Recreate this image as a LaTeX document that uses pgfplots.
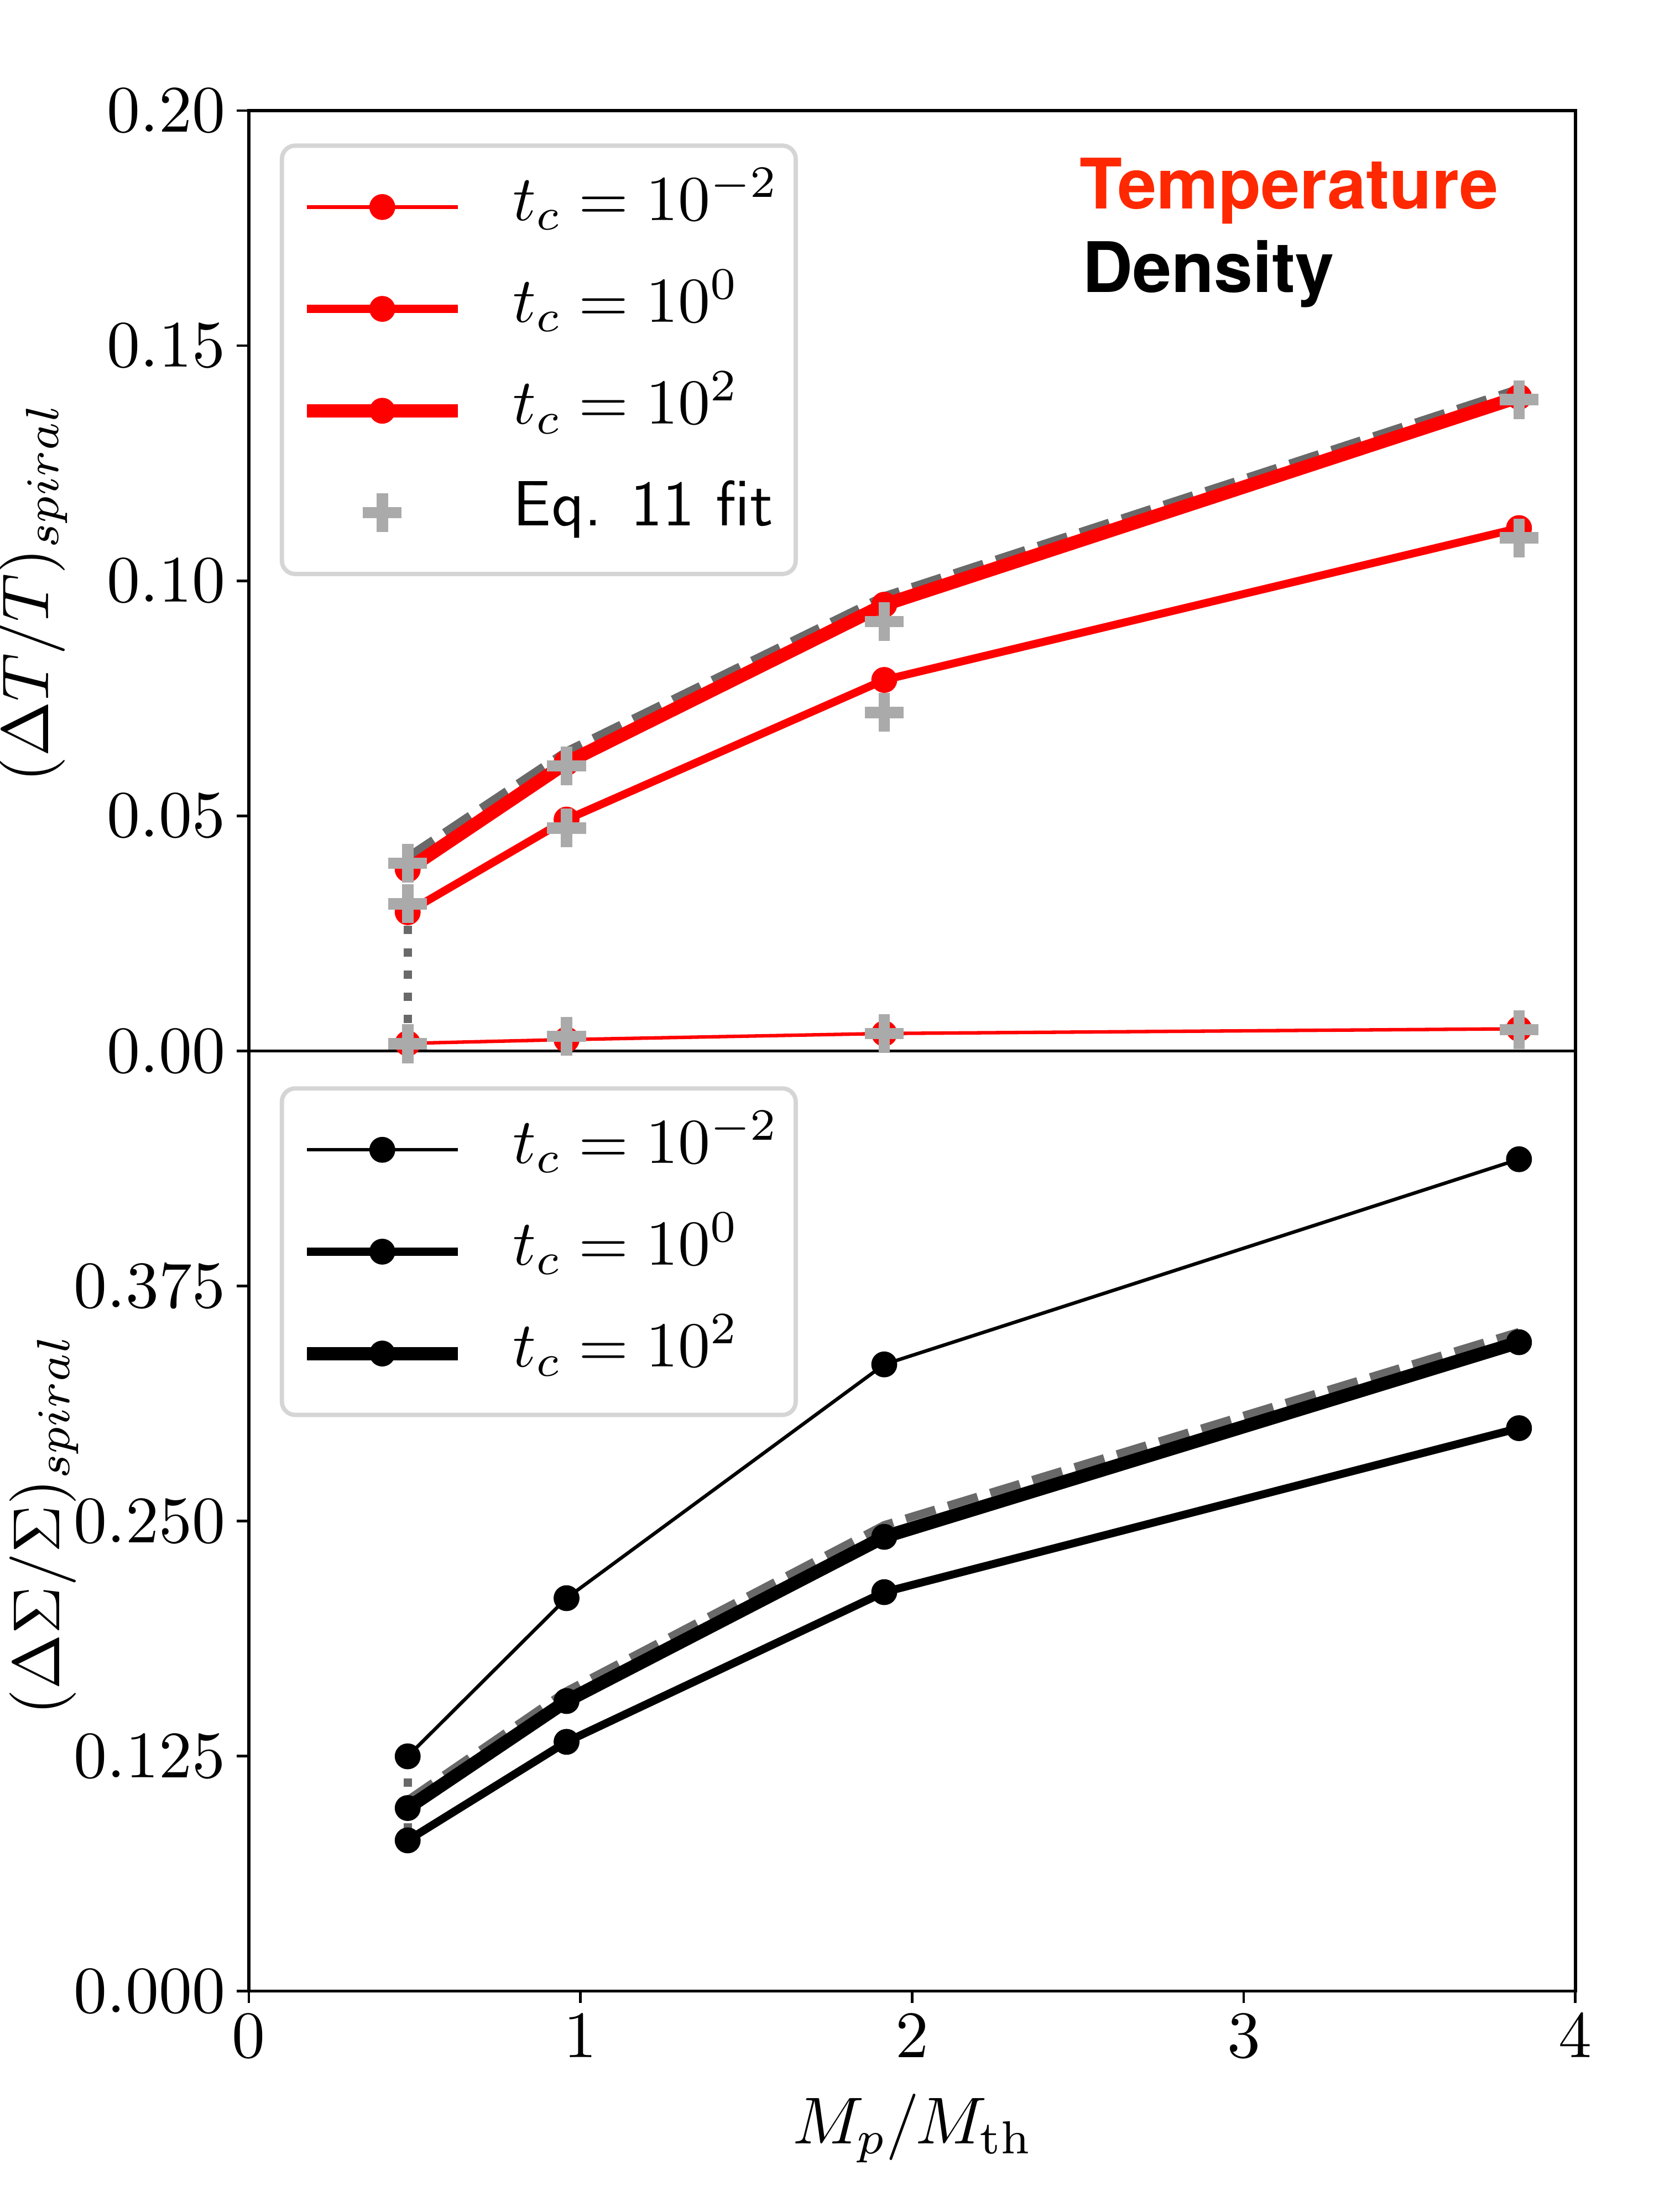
\documentclass[border=0pt]{standalone}
\usepackage[no-math]{fontspec}
\newfontfamily\heros{TeX Gyre Heros}
% Computer Modern at design sizes 10 (text) and 7 (scripts), scaled, as matplotlib's usetex does
\DeclareFontShape{OT1}{cmr}{m}{n}{<-15>cmr7<15->cmr10}{}
\DeclareFontShape{OML}{cmm}{m}{it}{<-15>cmmi7<15->cmmi10}{}
\DeclareFontShape{OMS}{cmsy}{m}{n}{<-15>cmsy7<15->cmsy10}{}
\DeclareFontFamily{OT1}{cmss}{\hyphenchar\font45}
\DeclareFontShape{OT1}{cmss}{m}{n}{<->cmss10}{}
\newcommand\cmss{\fontencoding{OT1}\fontfamily{cmss}\fontseries{m}\fontshape{n}\selectfont}
\usepackage{pgfplots}
\pgfplotsset{compat=1.18}
\definecolor{tempred}{RGB}{255,40,0}
\definecolor{fitgray}{HTML}{AAAAAA}
\definecolor{dashgray}{HTML}{696969}
\definecolor{framegray}{HTML}{D5D5D5}

\pgfplotsset{
  myaxis/.style={
    scale only axis, width=399.8pt, height=283.4pt,
    xmin=0, xmax=4,
    axis line style={line width=0.9pt},
    every tick/.style={black, line width=0.8pt},
    major tick length=3.6pt,
    tick align=outside,
    xtick pos=bottom, ytick pos=left,
    tick label style={font=\fontsize{20}{24}\selectfont},
    label style={font=\fontsize{20}{24}\selectfont},
    legend cell align=left,
    legend style={at={(axis description cs:0.0233,0.965)}, anchor=north west,
      draw=framegray, line width=1.3pt, rounded corners=4pt, fill=white,
      font=\fontsize{19.3}{23}\selectfont,
      inner xsep=5.5pt, inner ysep=8.5pt, row sep=10.7pt, column sep=14.7pt,
      nodes={inner sep=0pt, text height=14pt, text depth=6pt}},
    legend image code/.code={\draw[mark repeat=2,mark phase=2,#1] plot coordinates {(0pt,0pt) (22.75pt,0pt) (45.5pt,0pt)};},
  },
  thinl/.style={line width=1.05pt, mark=*, mark size=3.7pt, mark options={solid, line width=0.4pt}},
  medl/.style={line width=2.4pt, mark=*, mark size=3.7pt, mark options={solid, line width=0.4pt}},
  thickl/.style={line width=4.0pt, mark=*, mark size=3.7pt, mark options={solid, line width=0.4pt}},
  fitdash/.style={dashgray, line width=2.5pt, dash pattern=on 9.3pt off 4pt, forget plot},
  fitdot/.style={dashgray, line width=2.5pt, dash pattern=on 2.5pt off 4.2pt, forget plot},
}

\begin{document}
\begin{tikzpicture}
\useasboundingbox (-75pt,-66.54pt) rectangle (425pt,600.13pt);

% ---------------- bottom panel: density ----------------
\begin{axis}[myaxis,
  at={(0pt,0pt)}, anchor=south west,
  ymin=0, ymax=0.5,
  xtick={0,1,2,3,4},
  ytick={0,0.125,0.25,0.375},
  yticklabel style={/pgf/number format/.cd, fixed, fixed zerofill, precision=3},
  xlabel={$M_p/M_{\mathrm{th}}$},
  xlabel style={at={(axis description cs:0.5,0)}, anchor=base, yshift=-46pt},
  ylabel={$(\Delta\Sigma/\Sigma)_{spiral}$},
  ylabel style={at={(axis description cs:-0.1545,0.496)}, anchor=center},
  legend style={at={(axis description cs:0.0233,0.9624)}},
]
\addplot[fitdash] coordinates {(0.479,0.1015) (0.958,0.1595) (1.916,0.2478) (3.83,0.3505)};
\addplot[black, thinl] coordinates {(0.479,0.1249) (0.958,0.2090) (1.916,0.3333) (3.83,0.4424)};
\addlegendentry{$t_c = 10^{-2}$}
\addplot[black, medl] coordinates {(0.479,0.0802) (0.958,0.1326) (1.916,0.2122) (3.83,0.2994)};
\addlegendentry{$t_c = 10^{0}$}
\addplot[black, thickl] coordinates {(0.479,0.0974) (0.958,0.1543) (1.916,0.2416) (3.83,0.3451)};
\addlegendentry{$t_c = 10^{2}$}
\addplot[fitdot] coordinates {(0.479,0.1249) (0.479,0.0820)};
\end{axis}

% ---------------- top panel: temperature ----------------
\begin{axis}[myaxis,
  at={(0pt,283.4pt)}, anchor=south west,
  ymin=0, ymax=0.2,
  xtick=\empty,
  ytick={0,0.05,0.1,0.15,0.2},
  yticklabel style={/pgf/number format/.cd, fixed, fixed zerofill, precision=2},
  ylabel={$(\Delta T/T)_{spiral}$},
  ylabel style={at={(axis description cs:-0.1626,0.487)}, anchor=center},
]
\addplot[fitdash] coordinates {(0.479,0.0412) (0.958,0.0637) (1.916,0.0967) (3.83,0.1408)};
\addplot[red, thinl] coordinates {(0.479,0.0016) (0.958,0.0024) (1.916,0.0037) (3.83,0.0047)};
\addlegendentry{$t_c = 10^{-2}$}
\addplot[red, medl] coordinates {(0.479,0.0295) (0.958,0.0492) (1.916,0.0789) (3.83,0.1112)};
\addlegendentry{$t_c = 10^{0}$}
\addplot[red, thickl] coordinates {(0.479,0.0386) (0.958,0.0613) (1.916,0.0949) (3.83,0.1391)};
\addlegendentry{$t_c = 10^{2}$}
\addplot[fitdot] coordinates {(0.479,0.0313) (0.479,0.0016)};
\addplot[fitgray, only marks, mark=+, mark size=5.85pt, line width=3.45pt] coordinates {
  (0.479,0.0399) (0.479,0.0313) (0.479,0.0015)
  (0.958,0.0606) (0.958,0.0474) (0.958,0.0031)
  (1.916,0.0913) (1.916,0.0720) (1.916,0.0037)
  (3.83,0.1385) (3.83,0.1091) (3.83,0.0045)};
\addlegendentry{\cmss Eq. 11 fit}
\node[anchor=base west, inner sep=0pt, text=tempred, font=\heros\bfseries\fontsize{21}{25}\selectfont] at (rel axis cs:0.626,0.8953) {Temperature};
\node[anchor=base west, inner sep=0pt, text=black, font=\heros\bfseries\fontsize{21}{25}\selectfont] at (rel axis cs:0.628,0.807) {Density};
\end{axis}
\end{tikzpicture}
\end{document}
